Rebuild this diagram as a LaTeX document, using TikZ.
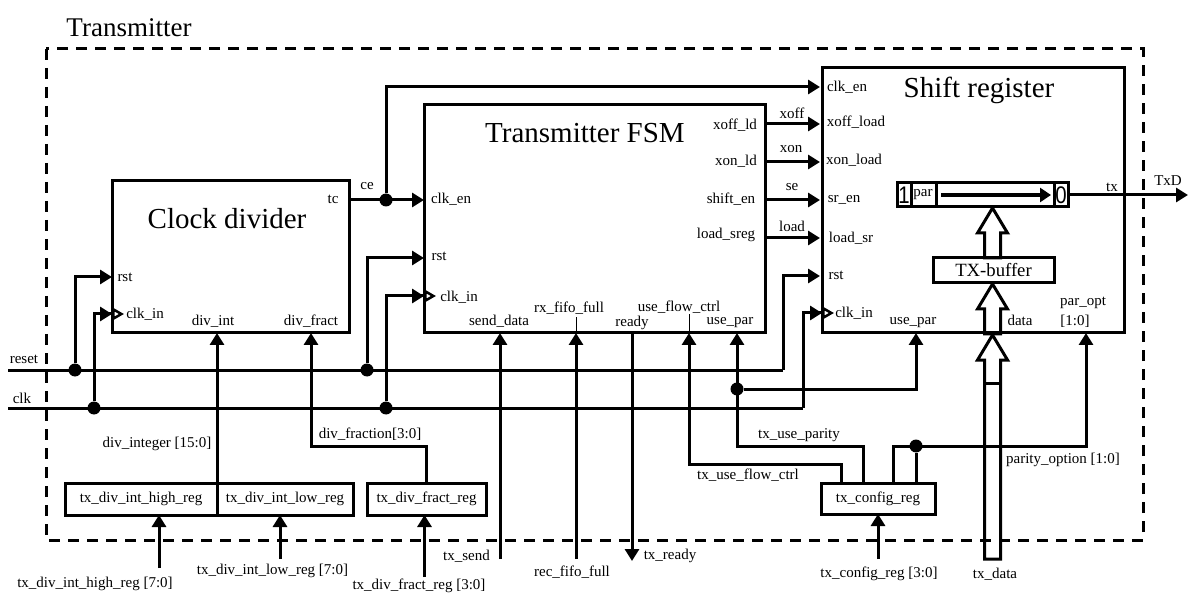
\documentclass[tikz,border=0pt]{standalone}
\usepackage{fontspec}
\setmainfont{Liberation Serif}
\newfontfamily\digitfont{Liberation Sans}
\usetikzlibrary{arrows.meta}

\tikzset{
    block/.style={draw,line width=3pt,inner sep=0pt,outer sep=0pt,anchor=north west,fill=white,font=\fontsize{15}{17}\selectfont},
    lbl/.style={inner sep=0pt,font=\fontsize{15}{17}\selectfont},
    heading/.style={inner sep=0pt,font=\fontsize{29}{32}\selectfont},
    sig/.style={line width=3pt,-{Triangle[length=12pt,width=14pt]}},
    clksig/.style={line width=3pt,-{Triangle[length=12pt,width=14pt,sep=0pt]Triangle[length=12pt,width=13pt,fill=white,line width=2.5pt]}},
    wire/.style={line width=3pt},
    tick/.style={line width=1pt},
    dot/.style={circle,fill=black,inner sep=0pt,minimum size=13pt},
    bus/.style={line width=3pt,line join=miter},
}
\newcommand{\busarrow}[2]{\draw[bus] (#1) -- ++(15,25) -- ++(-7,0) -- ++(0,#2) -- ++(-16,0) -- ++(0,-#2) -- ++(-7,0) -- cycle;}

\begin{document}
\begin{tikzpicture}[x=1pt,y=-1pt]
\useasboundingbox (0,0) rectangle (1188,593);

% ===== Frame =====
\draw[line width=3pt,dash pattern=on 11pt off 8pt] (46,49) rectangle (1143,540);
\node[inner sep=0pt,font=\fontsize{27}{30}\selectfont] (title) at (129,28) {Transmitter};

% ===== Blocks =====
\node[block,minimum width=237pt,minimum height=152pt] (clkdiv) at (112,181) {};
\node[block,minimum width=341pt,minimum height=228pt] (fsm) at (424,105) {};
\node[block,minimum width=302pt,minimum height=265pt] (sreg) at (822,68) {};

\node[block,minimum width=152pt,minimum height=32pt] (highreg) at (65,483) {tx\_div\_int\_high\_reg};
\node[block,minimum width=136pt,minimum height=32pt] (lowreg) at (217,483) {tx\_div\_int\_low\_reg};
\node[block,minimum width=119pt,minimum height=32pt] (fractreg) at (367,483) {tx\_div\_fract\_reg};
\node[block,minimum width=114pt,minimum height=31pt] (cfgreg) at (821,483) {tx\_config\_reg};

\node[block,minimum width=121pt,minimum height=25pt,font=\fontsize{18.7}{20}\selectfont] (txbuf) at (933,258) {TX-buffer};

\node[block,minimum width=171pt,minimum height=24pt] (body) at (897,183) {};
\node[block,minimum width=14pt,minimum height=24pt] (cellone) at (897,183) {};
\node[block,minimum width=25pt,minimum height=24pt] (cellpar) at (911,183) {};
\node[block,minimum width=14pt,minimum height=24pt] (cellzero) at (1054,183) {};
\node[inner sep=0pt,font=\digitfont\fontsize{24}{24}\selectfont,xscale=.85] (one) at (904,195) {1};
\node[inner sep=0pt,font=\digitfont\fontsize{24}{24}\selectfont,xscale=.85] (zero) at (1061,195) {0};
\node[lbl] (par) at (923,195) {par};

% ===== Ports =====
\coordinate (clk_rst) at (112,277);
\coordinate (clk_in) at (124,314);
\coordinate (clk_int) at (217,333);
\coordinate (clk_fract) at (311,333);
\coordinate (clk_tc) at (349,200);

\coordinate (fsm_en) at (424,200);
\coordinate (fsm_rst) at (424,258);
\coordinate (fsm_in) at (436,296);
\coordinate (fsm_send) at (500,333);
\coordinate (fsm_rx) at (576,333);
\coordinate (fsm_ready) at (632,333);
\coordinate (fsm_flow) at (689,333);
\coordinate (fsm_par) at (737,333);

\coordinate (sr_en) at (820,87);
\coordinate (sr_rst) at (820,276);
\coordinate (sr_in) at (834,313);
\coordinate (sr_par) at (916,333);
\coordinate (sr_opt) at (1086,333);
\coordinate (sr_out) at (1068,195);

\coordinate (high_in) at (159,568);
\coordinate (low_in) at (280,559);
\coordinate (fract_in) at (424.5,577);
\coordinate (cfg_in) at (878,559);
\coordinate (send_in) at (500,559);
\coordinate (rx_in) at (576,559);
\coordinate (ready_out) at (632,561);
\coordinate (txd_out) at (1188,195);
\coordinate (reset_in) at (8,370);
\coordinate (clk_start) at (8,408);

% ===== Junctions =====
\node[dot] (j_rst_a) at (75,370) {};
\node[dot] (j_rst_b) at (367,370) {};
\node[dot] (j_clk_a) at (94,408) {};
\node[dot] (j_clk_b) at (386,408) {};
\node[dot] (j_ce) at (386,200) {};
\node[dot] (j_par) at (737,389) {};
\node[dot] (j_opt) at (916,446) {};

% ===== Reset and clock =====
\draw[wire] (reset_in) -- (783,370) coordinate (rst_turn);
\draw[sig] (rst_turn) |- (sr_rst);
\draw[wire] (clk_start) -- (803,408) coordinate (clkline_turn);
\draw[clksig] (clkline_turn) |- (sr_in);
\draw[sig] (j_rst_a) |- (clk_rst);
\draw[clksig] (j_clk_a) |- (clk_in);
\draw[sig] (j_rst_b) |- (fsm_rst);
\draw[clksig] (j_clk_b) |- (fsm_in);

% ===== Clock enable =====
\draw[sig] (clk_tc) -- (fsm_en);
\draw[sig] (j_ce) |- (sr_en);

% ===== FSM to shift register =====
\foreach \y/\name in {124/xoff,162/xon,200/se,238/load} {
    \coordinate (\name_a) at (765,\y);
    \coordinate (\name_b) at (820,\y);
    \draw[sig] (\name_a) -- (\name_b);
}

% ===== Divider registers =====
\draw[sig] (highreg.north east) -- (clk_int);
\draw[sig] (fractreg.north) |- (clk_fract |- 0,446) -- (clk_fract);
\draw[sig] (high_in) -- (high_in |- highreg.south);
\draw[sig] (low_in) -- (low_in |- lowreg.south);
\draw[sig] (fract_in) -- (fract_in |- fractreg.south);

% ===== FSM inputs =====
\draw[sig] (send_in) -- (fsm_send);
\draw[sig] (rx_in) -- (fsm_rx);
\draw[sig] (fsm_ready) -- (ready_out);
\draw[tick] (fsm_rx) -- ++(0,-16);
\draw[tick] (fsm_flow) -- ++(0,-19);

% ===== Config register =====
\coordinate (cfg_flow) at (841,483);
\coordinate (cfg_par) at (863,483);
\coordinate (cfg_opt) at (893,483);
\coordinate (cfg_tap) at (916,483);
\draw[sig] (cfg_flow) |- (689,464) -- (fsm_flow);
\draw[sig] (cfg_par) |- (737,446) -- (fsm_par);
\draw[sig] (j_par) -| (sr_par);
\draw[sig] (cfg_opt) |- (1086,446) -- (sr_opt);
\draw[wire] (cfg_tap) -- (j_opt);
\draw[sig] (cfg_in) -- (cfg_in |- cfgreg.south);

% ===== Serial output =====
\draw[sig] (sr_out) -- (txd_out);
\draw[line width=3.5pt,-{Triangle[length=11pt,width=14pt]}] (941,195) -- (1051,195);

% ===== Data bus =====
\coordinate (tip_body) at (992.5,208);
\coordinate (tip_buf) at (992.5,284);
\coordinate (tip_data) at (992.5,335);
\busarrow{tip_body}{25}
\busarrow{tip_buf}{25}
\busarrow{tip_data}{199}
\draw[bus] (984.5,383) -- (1000.5,383);

% ===== Block titles =====
\node[heading] (clkdiv_title) at (227,219) {Clock divider};
\node[heading] (fsm_title) at (585,133) {Transmitter FSM};
\node[heading] (sreg_title) at (979,90) {Shift register};

% ===== Labels, clock divider =====
\node[lbl] (l_rst) at (125,277) {rst};
\node[lbl] (l_clk_in) at (145,314) {clk\_in};
\node[lbl] (l_div_int) at (213,321) {div\_int};
\node[lbl] (l_div_fract) at (311,321) {div\_fract};
\node[lbl] (l_tc) at (333,199) {tc};
\node[lbl] (l_ce) at (367,186) {ce};
\node[lbl] (l_reset) at (24,359) {reset};
\node[lbl] (l_clk) at (22,398) {clk};

% ===== Labels, FSM =====
\node[lbl] (l_f_en) at (451,199) {clk\_en};
\node[lbl] (l_f_rst) at (439,256) {rst};
\node[lbl] (l_f_in) at (459,297) {clk\_in};
\node[lbl] (l_f_send) at (499,321) {send\_data};
\node[lbl] (l_f_rx) at (569,308) {rx\_fifo\_full};
\node[lbl] (l_f_ready) at (632,323) {ready};
\node[lbl] (l_f_flow) at (679,307) {use\_flow\_ctrl};
\node[lbl] (l_f_par) at (730,323) {use\_par};
\node[lbl] (l_xoff_ld) at (735,125) {xoff\_ld};
\node[lbl] (l_xon_ld) at (736,161) {xon\_ld};
\node[lbl] (l_shift) at (731,199) {shift\_en};
\node[lbl] (l_sreg) at (726,235) {load\_sreg};
\node[lbl] (l_xoff) at (792,113) {xoff};
\node[lbl] (l_xon) at (791,149) {xon};
\node[lbl] (l_se) at (792,187) {se};
\node[lbl] (l_load) at (792,226) {load};

% ===== Labels, shift register =====
\node[lbl] (l_s_en) at (847,87) {clk\_en};
\node[lbl] (l_s_xoff) at (856,122) {xoff\_load};
\node[lbl] (l_s_xon) at (854,160) {xon\_load};
\node[lbl] (l_s_sr) at (844,200) {sr\_en};
\node[lbl] (l_s_load) at (851,238) {load\_sr};
\node[lbl] (l_s_rst) at (836,275) {rst};
\node[lbl] (l_s_in) at (854,313) {clk\_in};
\node[lbl] (l_s_par) at (913,323) {use\_par};
\node[lbl] (l_s_data) at (1020,320) {data};
\node[lbl] (l_s_opt) at (1083,303) {par\_opt};
\node[lbl] (l_s_range) at (1075,321) {[1:0]};
\node[lbl] (l_tx) at (1112,187) {tx};
\node[lbl] (l_txd) at (1168,181) {TxD};

% ===== Labels, below =====
\node[lbl] (l_use_par) at (799,435) {tx\_use\_parity};
\node[lbl] (l_use_flow) at (748,475) {tx\_use\_flow\_ctrl};
\node[lbl] (l_par_opt) at (1063,460) {parity\_option [1:0]};
\node[lbl] (l_cfg) at (879,574) {tx\_config\_reg [3:0]};
\node[lbl] (l_data) at (995,574) {tx\_data};
\node[lbl] (l_ready) at (670,556) {tx\_ready};
\node[lbl] (l_integer) at (157,444) {div\_integer [15:0]};
\node[lbl] (l_fraction) at (370,434) {div\_fraction[3:0]};
\node[lbl] (l_send) at (466.5,556) {tx\_send};
\node[lbl] (l_rec) at (572,572) {rec\_fifo\_full};
\node[lbl] (l_high) at (95,584) {tx\_div\_int\_high\_reg [7:0]};
\node[lbl] (l_low) at (272.5,571) {tx\_div\_int\_low\_reg [7:0]};
\node[lbl] (l_fract) at (419,586) {tx\_div\_fract\_reg [3:0]};

\end{tikzpicture}
\end{document}
